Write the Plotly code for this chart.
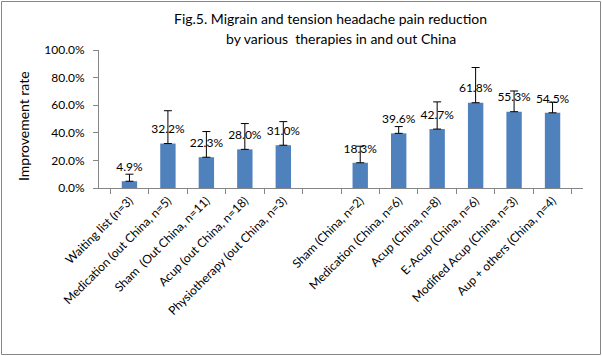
import plotly.graph_objects as go

categories = [
    "Waiting list (n=3)",
    "Medication (out China, n=5)",
    "Sham  (Out China, n=11)",
    "Acup (out China, n=18)",
    "Physiotherapy (out China, n=3)",
    " ",
    "Sham (China, n=2)",
    "Medication (China, n=6)",
    "Acup (China, n=8)",
    "E-Acup (China, n=6)",
    "Modified Acup (China, n=3)",
    "Aup + others (China, n=4)",
]
values = [0.049, 0.322, 0.223, 0.280, 0.310, None, 0.183, 0.396, 0.427, 0.618, 0.553, 0.545]
errors_plus = [0.051, 0.238, 0.186, 0.187, 0.171, None, 0.12, 0.049, 0.197, 0.255, 0.150, 0.077]
labels = ["" if v is None else f"{v*100:.1f}%" for v in values]

FONT = "Lato"
W, H = 602, 356
L, R, T, B = 99, 19, 50, 168
PW, PH = W - L - R, H - T - B

def px(x):
    return (x - L) / PW

def py(y):
    return (H - B - y) / PH

fig = go.Figure()
fig.add_trace(go.Bar(
    x=categories,
    y=values,
    marker=dict(color="#4F81BD", line=dict(width=0)),
    width=0.4,
    error_y=dict(type="data", symmetric=False, array=errors_plus,
                 arrayminus=[0] * len(errors_plus),
                 color="black", thickness=1, width=4),
    hoverinfo="skip",
))
fig.add_trace(go.Scatter(
    x=categories,
    y=values,
    mode="markers+text",
    marker=dict(size=10, opacity=0),
    text=labels,
    textposition="top center",
    textfont=dict(family=FONT, size=12, color="black"),
    cliponaxis=False,
    hoverinfo="skip",
))

fig.update_layout(
    width=W, height=H,
    margin=dict(l=L, r=R, t=T, b=B),
    paper_bgcolor="white",
    plot_bgcolor="white",
    showlegend=False,
    font=dict(family=FONT, color="black"),
    bargap=0.6,
)
fig.update_xaxes(
    type="category", automargin=False,
    showline=True, linecolor="#868686", linewidth=1,
    ticks="outside", tickson="boundaries", ticklen=5, tickcolor="#868686",
    tickangle=-45,
    tickfont=dict(family=FONT, size=12, color="black"),
    showgrid=False,
)
fig.update_yaxes(
    range=[0, 1], dtick=0.2, tickformat=".1%", automargin=False,
    showline=True, linecolor="#868686", linewidth=1,
    ticks="outside", ticklen=5, tickcolor="#868686",
    ticklabelstandoff=6,
    tickfont=dict(family=FONT, size=12, color="black"),
    showgrid=False, zeroline=False,
)

fig.add_annotation(text="Improvement rate", textangle=-90,
                   x=px(23), y=py(126), xref="paper", yref="paper",
                   xanchor="center", yanchor="middle", showarrow=False,
                   font=dict(family=FONT, size=14, color="black"))
fig.add_annotation(text="Fig.5. Migrain and tension headache pain reduction",
                   x=px(330), y=py(19), xref="paper", yref="paper",
                   xanchor="center", yanchor="middle", showarrow=False,
                   font=dict(family=FONT, size=14, color="black"))
fig.add_annotation(text="by various  therapies in and out China",
                   x=px(341), y=py(38), xref="paper", yref="paper",
                   xanchor="center", yanchor="middle", showarrow=False,
                   font=dict(family=FONT, size=14, color="black"))

fig.add_shape(type="rect", xref="paper", yref="paper",
              x0=px(1.5), x1=px(600.5), y0=py(354.5), y1=py(1.5),
              line=dict(color="#868686", width=1), fillcolor="rgba(0,0,0,0)")

fig.write_html(
    "out.html",
    config={"displayModeBar": False},
    post_script="document.body.style.margin='0';document.body.style.padding='0';"
                "document.body.style.overflow='hidden';",
)
